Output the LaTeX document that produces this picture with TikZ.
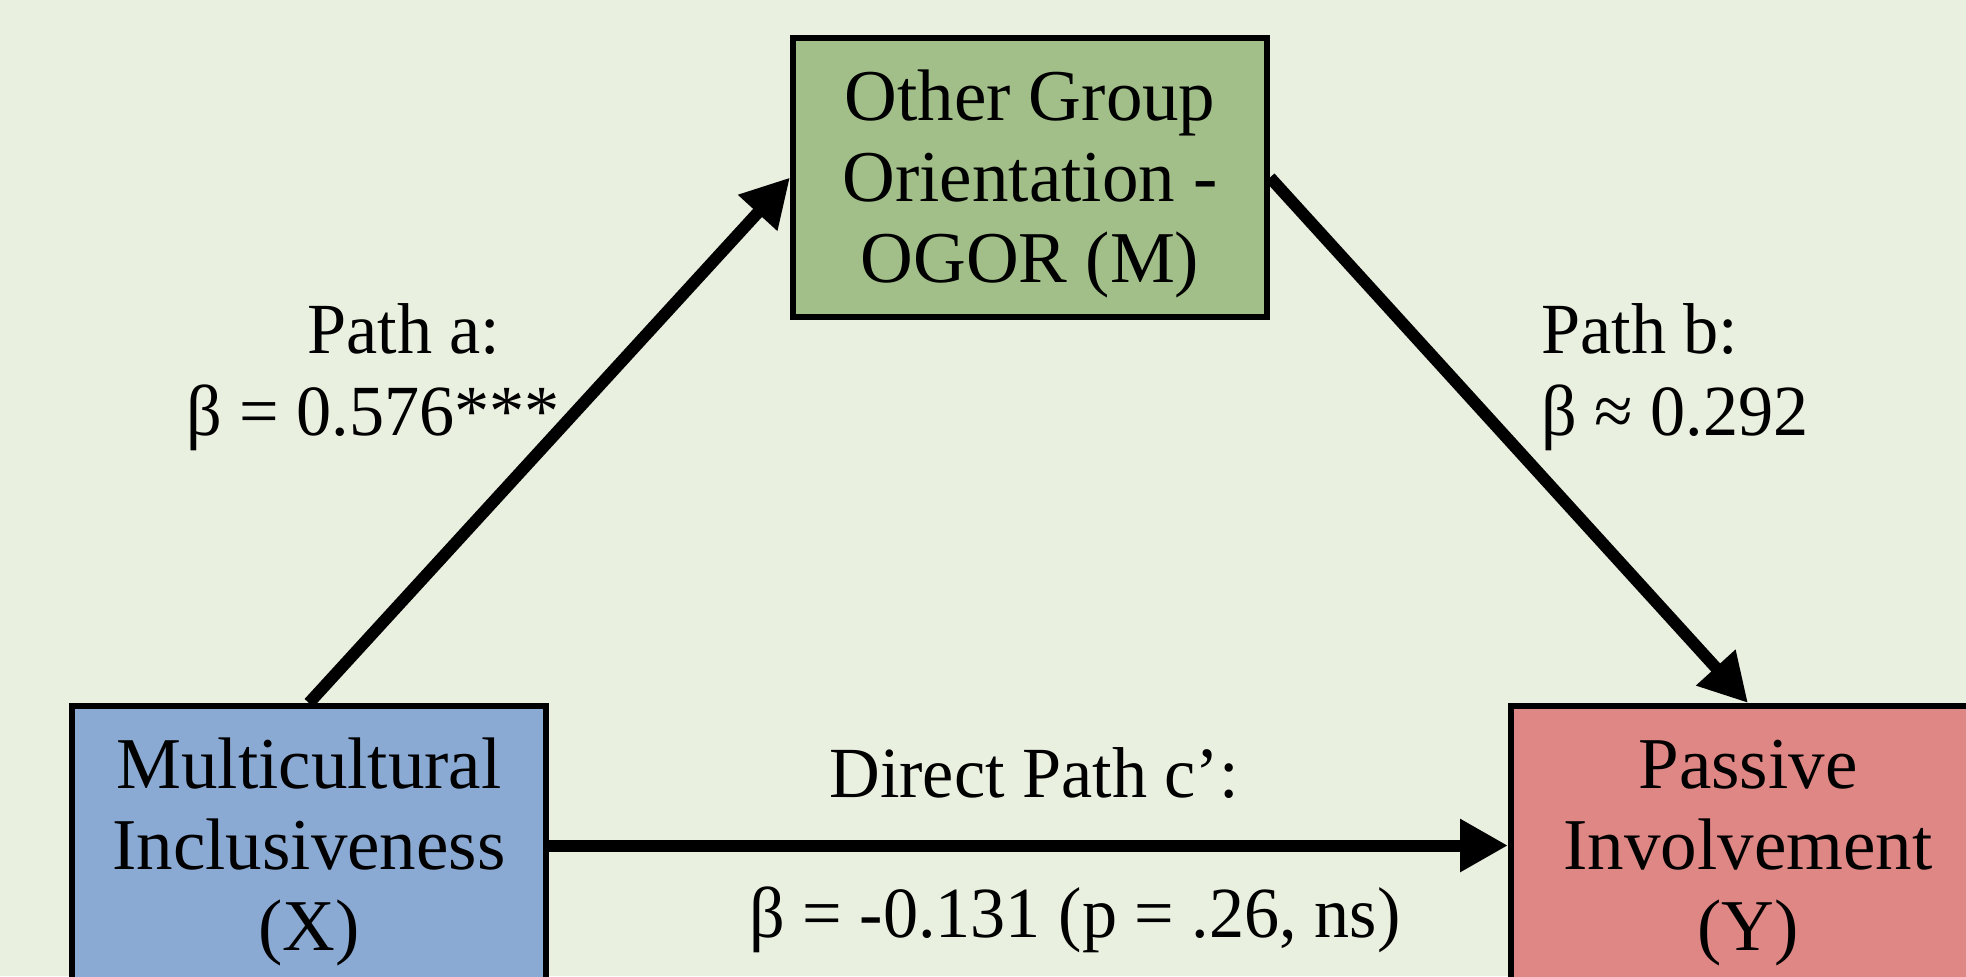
\documentclass[tikz,border=0pt]{standalone}
\usepackage{fontspec}
\setmainfont{Liberation Serif}[FakeStretch=0.975]
\newfontfamily\boxfont{Liberation Serif}
\usetikzlibrary{arrows.meta}
\definecolor{bgc}{RGB}{234,240,224}
\definecolor{mfill}{RGB}{162,191,137}
\definecolor{xfill}{RGB}{138,170,212}
\definecolor{yfill}{RGB}{222,135,133}
\newcommand\myTopStrut{\rule{0pt}{32pt}}
\tikzset{
  varbox/.style={draw=black, line width=3pt, minimum width=237pt, minimum height=139.5pt,
    inner sep=0pt, align=center,
    font=\boxfont\fontsize{36.5}{40.5}\selectfont},
  lbl/.style={inner sep=0pt, anchor=base west, font=\fontsize{36}{40.5}\selectfont},
  patharrow/.style={line width=6pt, -{Triangle[length=24pt,width=25pt]}}
}
\begin{document}
\begin{tikzpicture}[x=0.5pt,y=-0.5pt]
\useasboundingbox (0,0) rectangle (1966,976);
\fill[bgc] (0,0) rectangle (1966,976);
\clip (0,0) rectangle (1966,976);
\node[varbox, fill=mfill] (M) at (1030,177.5) {\myTopStrut Other Group\\Orientation -\\OGOR (M)};
\node[varbox, fill=xfill] (X) at (309,845.5) {\myTopStrut Multicultural\\Inclusiveness\\(X)};
\node[varbox, fill=yfill] (Y) at (1748,845.5) {\myTopStrut Passive\\Involvement\\(Y)};
\draw[patharrow] (X.north) -- (M.west);
\draw[patharrow] (M.east) -- (Y.north);
\draw[patharrow] (X.east) -- (Y.west);
\node[lbl] (la1) at (307,353) {Path a:};
\node[lbl] (la2) at (186,435) {β = 0.576***};
\node[lbl] (lb1) at (1541,353) {Path b:};
\node[lbl] (lb2) at (1541,435) {β ≈ 0.292};
\node[lbl] (lc1) at (829,797) {Direct Path c’:};
\node[lbl] (lc2) at (749,937) {β = -0.131 (p = .26, ns)};
\end{tikzpicture}
\end{document}
